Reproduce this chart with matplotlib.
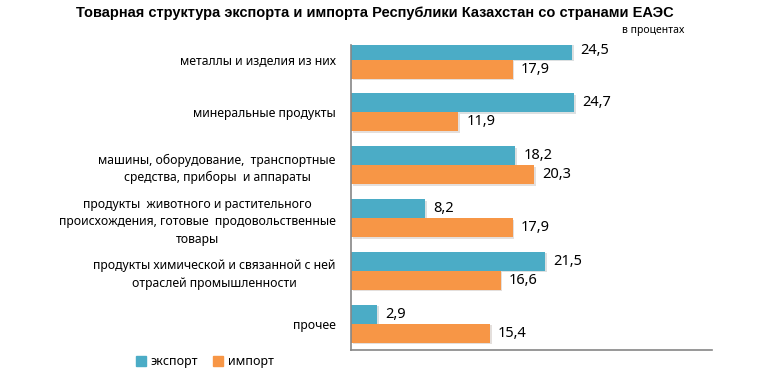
import numpy as np
import matplotlib
matplotlib.use('Agg')
import matplotlib.pyplot as plt
import matplotlib.patheffects as pe
from matplotlib.patches import Patch

plt.rcParams['font.family'] = ['Noto Sans', 'DejaVu Sans']

categories = [
    'металлы и изделия из них',
    'минеральные продукты',
    'машины, оборудование,  транспортные\nсредства, приборы  и аппараты',
    'продукты  животного и растительного\nпроисхождения, готовые  продовольственные\nтовары',
    'продукты химической и связанной с ней\nотраслей промышленности',
    'прочее',
]
export = [24.5, 24.7, 18.2, 8.2, 21.5, 2.9]
imports = [17.9, 11.9, 20.3, 17.9, 16.6, 15.4]
series_names = ['экспорт', 'импорт']
colors = ['#4BACC6', '#F79646']


def fmt(v):
    return f'{v:.1f}'.replace('.', ',')


fig = plt.figure(figsize=(7.72, 3.84), dpi=100)
ax = fig.add_axes([351 / 772, 1 - 350 / 384, 361 / 772, 305 / 384])

y = np.arange(len(categories))
h = 0.36
shadow = [pe.SimplePatchShadow(offset=(1.2, -1.2), alpha=0.15), pe.Normal()]

for vals, off, col in [(export, -h / 2, colors[0]), (imports, h / 2, colors[1])]:
    bars = ax.barh(y + off, vals, height=h, color=col)
    for b in bars:
        b.set_path_effects(shadow)
    for yy, v in zip(y + off, vals):
        ax.text(v + 0.9, yy, fmt(v), va='center', ha='left', fontsize=10.5)

ax.set_xlim(0, 40)
ax.set_ylim(5.5, -0.276)
ax.set_yticks(y)
ax.set_yticklabels(categories, multialignment='center', fontsize=8.8, linespacing=1.45)
ax.tick_params(axis='y', length=0, pad=11)
ax.set_xticks([])
for s in ['top', 'right']:
    ax.spines[s].set_visible(False)
for s in ['left', 'bottom']:
    ax.spines[s].set_color('#868686')
    ax.spines[s].set_linewidth(1.2)

fig.text(375 / 772, 1 - 13 / 384, 'Товарная структура экспорта и импорта Республики Казахстан со странами ЕАЭС',
         ha='center', va='center', fontsize=10.5, fontweight='bold',
         family=['Liberation Sans Narrow', 'Liberation Sans', 'DejaVu Sans'])
fig.text(684 / 772, 1 - 31 / 384, 'в процентах', ha='right', va='center', fontsize=7.5)

handles = [Patch(color=c) for c in colors]
fig.legend(handles, series_names, loc='center', bbox_to_anchor=(205 / 772, 1 - 362 / 384),
           ncol=2, frameon=False, fontsize=9, handlelength=0.8, handleheight=0.8,
           handletextpad=0.4, columnspacing=1.2)

fig.savefig('out.png', dpi=100)
